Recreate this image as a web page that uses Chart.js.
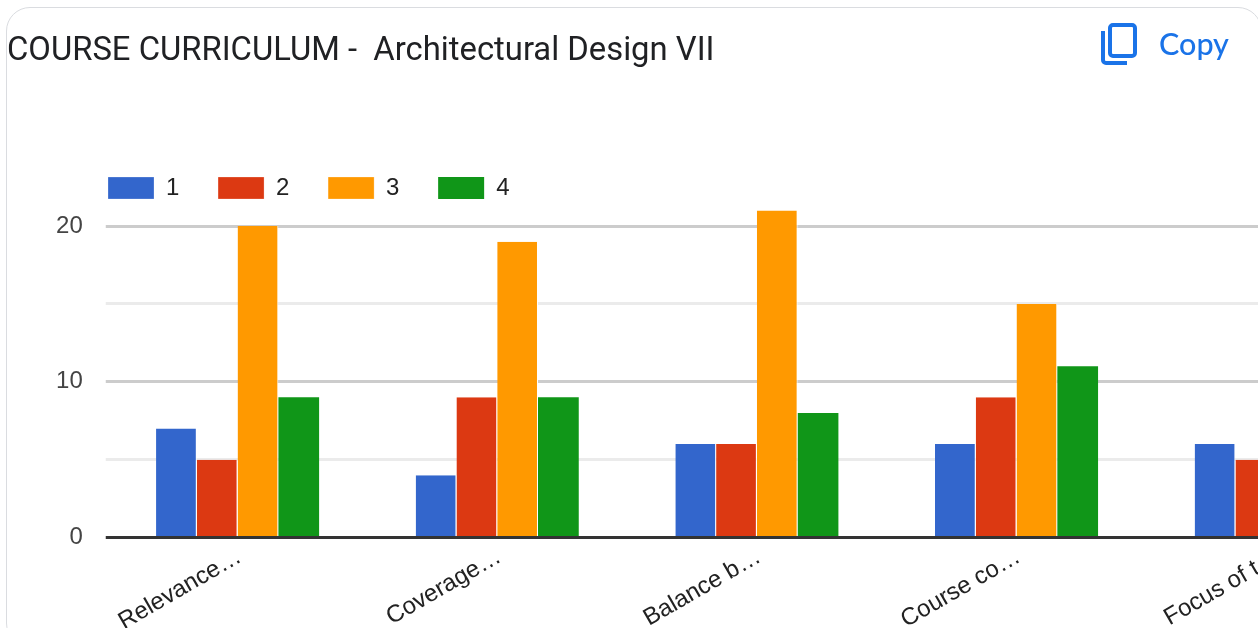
<!DOCTYPE html>
<html>
<head>
<meta charset="utf-8">
<script src="https://cdn.jsdelivr.net/npm/chart.js@4"></script>
<style>
html,body{margin:0;padding:0;background:#fff;overflow:hidden;width:1258px;height:632px}
#clip{position:absolute;left:0;top:0;width:1258px;height:628px;overflow:hidden;background:#fff}
#card{position:absolute;left:6px;top:7px;width:1256px;height:640px;box-sizing:border-box;border:1.5px solid #dadce0;border-radius:24px}
#title{position:absolute;left:7px;top:30px;font:32.8px Roboto,sans-serif;color:#202124;white-space:pre}
#copy{position:absolute;left:1159px;top:25px;font:500 30.5px Lato,Roboto,sans-serif;color:#1a73e8}
#icon{position:absolute;left:1100px;top:22px}
canvas{position:absolute;left:0;top:0}
</style>
</head>
<body>
<div id="clip">
<div id="card"></div>
<canvas id="c" width="1406" height="700" style="width:1406px;height:700px"></canvas>
<div id="title">COURSE CURRICULUM -  Architectural Design VII</div>
<svg id="icon" width="38" height="44" viewBox="0 0 38 44" fill="none" stroke="#1a73e8" stroke-width="4">
<rect x="10" y="3" width="25" height="31" rx="3"/>
<path d="M3 9 V38 a3 3 0 0 0 3 3 H27"/>
</svg>
<div id="copy">Copy</div>
</div>
<script>
const categories = ["Relevance…", "Coverage…", "Balance b…", "Course co…", "Focus of t…"];
const series1 = [7, 4, 6, 6, 6];
const series2 = [5, 9, 6, 9, 5];
const series3 = [20, 19, 21, 15, null];
const series4 = [9, 9, 8, 11, null];
const seriesNames = ["1", "2", "3", "4"];
const seriesColors = ["#3366cc", "#dc3912", "#ff9900", "#109618"];
const allSeries = [series1, series2, series3, series4];

const legendPlacer = {
  id: "legendPlacer",
  afterLayout(chart) {
    const l = chart.legend;
    const dx = 69.3 - l.left, dy = 137.3 - l.top;
    l.left += dx; l.right += dx; l.top += dy; l.bottom += dy;
    l.legendHitBoxes.forEach(b => { b.left += dx; b.top += dy; });
  }
};

new Chart(document.getElementById("c"), {
  type: "bar",
  data: {
    labels: categories,
    datasets: allSeries.map((d, i) => ({
      label: seriesNames[i],
      data: d,
      backgroundColor: seriesColors[i],
      borderColor: "#ffffff",
      borderWidth: {left: 0, top: 0, bottom: 0, right: i < 3 ? 1 : 0},
      borderSkipped: false
    }))
  },
  plugins: [legendPlacer],
  options: {
    responsive: false,
    animation: false,
    devicePixelRatio: 1,
    categoryPercentage: 0.628,
    barPercentage: 1,
    layout: {padding: {top: 75.5, left: 0, right: 0, bottom: 0}},
    plugins: {
      title: {display: false},
      tooltip: {enabled: false},
      legend: {
        display: true,
        position: "top",
        align: "start",
        labels: {
          boxWidth: 46,
          boxHeight: 22,
          padding: 38.7,
          color: "#222222",
          font: {family: "'Liberation Sans', Arial, sans-serif", size: 24}
        }
      }
    },
    scales: {
      x: {
        afterFit(s) { s.height = 162.5; },
        grid: {display: false},
        border: {display: true, color: "#333333", width: 3, z: 1},
        ticks: {
          autoSkip: false,
          minRotation: 30,
          maxRotation: 30,
          padding: -3,
          labelOffset: 2,
          color: "#222222",
          font: {family: "'Liberation Sans', Arial, sans-serif", size: 24}
        }
      },
      y: {
        min: 0,
        max: 25,
        afterFit(s) { s.width = 107.75; },
        border: {display: false},
        grid: {
          lineWidth: 3,
          tickLength: 2,
          drawTicks: true,
          color(ctx) {
            const v = ctx.tick.value;
            if (v === 10 || v === 20) return "#cccccc";
            if (v === 5 || v === 15) return "#ebebeb";
            return "rgba(0,0,0,0)";
          },
          tickColor(ctx) {
            const v = ctx.tick.value;
            if (v === 10 || v === 20) return "#cccccc";
            if (v === 5 || v === 15) return "#ebebeb";
            return v === 0 ? "#333333" : "rgba(0,0,0,0)";
          }
        },
        ticks: {
          stepSize: 5,
          padding: 23,
          color: "#444444",
          font: {family: "'Liberation Sans', Arial, sans-serif", size: 24},
          callback: v => (v === 0 || v === 10 || v === 20) ? String(v) : ""
        }
      }
    }
  }
});
</script>
</body>
</html>
